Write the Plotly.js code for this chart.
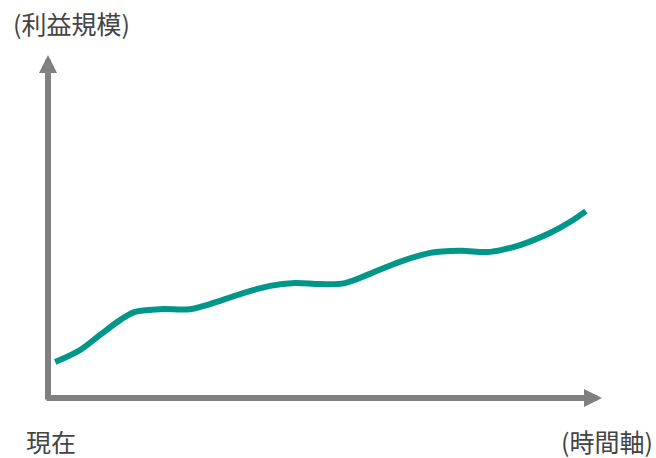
<!DOCTYPE html>
<html>
<head>
<meta charset="utf-8">
<script src="https://cdn.plot.ly/plotly-3.0.1.min.js"></script>
<style>html,body{margin:0;padding:0;background:#fff;}#chart{width:656px;height:458px;}</style>
</head>
<body>
<div id="chart"></div>
<script>
// Conceptual profit-over-time curve (abstract units 0-100)
const timeValues = [1.3, 5.8, 9.4, 13.0, 15.7, 20.2, 25.6, 29.2, 34.7, 40.1, 44.6, 49.1, 53.6, 58.1, 63.5, 69.0, 74.4, 79.8, 85.2, 90.6, 94.2, 97.1];
const profitValues = [10.5, 14.0, 18.4, 22.7, 25.1, 25.9, 25.9, 27.4, 30.3, 32.7, 33.5, 33.2, 33.5, 36.2, 39.7, 42.3, 42.9, 42.6, 44.6, 48.1, 51.3, 54.5];
const yAxisLabel = "(利益規模)";
const xAxisLabel = "(時間軸)";
const originLabel = "現在";

const font = '"Noto Sans CJK JP", "Noto Sans", sans-serif';
const axisColor = "#808080";
const textColor = "#444444";

const trace = {
  x: timeValues,
  y: profitValues,
  type: "scatter",
  mode: "lines",
  line: {color: "#00968A", width: 6, shape: "spline", smoothing: 1},
  hoverinfo: "skip",
  cliponaxis: false
};

const layout = {
  width: 656, height: 458,
  margin: {l: 48, r: 54, t: 55, b: 60},
  paper_bgcolor: "#ffffff",
  plot_bgcolor: "#ffffff",
  showlegend: false,
  xaxis: {range: [0, 100], visible: false, fixedrange: true},
  yaxis: {range: [0, 100], visible: false, fixedrange: true},
  font: {family: font, color: textColor},
  annotations: [
    {x: 0, y: 100, xref: "x", yref: "y", ax: 0, ay: -0.9, axref: "x", ayref: "y",
     showarrow: true, arrowhead: 2, arrowsize: 0.6, arrowwidth: 6, arrowcolor: axisColor, text: ""},
    {x: 100, y: 0, xref: "x", yref: "y", ax: -0.55, ay: 0, axref: "x", ayref: "y",
     showarrow: true, arrowhead: 2, arrowsize: 0.6, arrowwidth: 6, arrowcolor: axisColor, text: ""},
    {x: -0.065, y: 1.093, xref: "paper", yref: "paper", xanchor: "left", yanchor: "middle",
     showarrow: false, borderpad: 0, text: yAxisLabel, font: {size: 25, color: textColor, family: font}},
    {x: -0.0415, y: -0.124, xref: "paper", yref: "paper", xanchor: "left", yanchor: "middle",
     showarrow: false, borderpad: 0, text: originLabel, font: {size: 25, color: textColor, family: font}},
    {x: 1.094, y: -0.124, xref: "paper", yref: "paper", xanchor: "right", yanchor: "middle",
     showarrow: false, borderpad: 0, text: xAxisLabel, font: {size: 25, color: textColor, family: font}}
  ]
};

Plotly.newPlot("chart", [trace], layout, {staticPlot: true, displayModeBar: false});
</script>
</body>
</html>
